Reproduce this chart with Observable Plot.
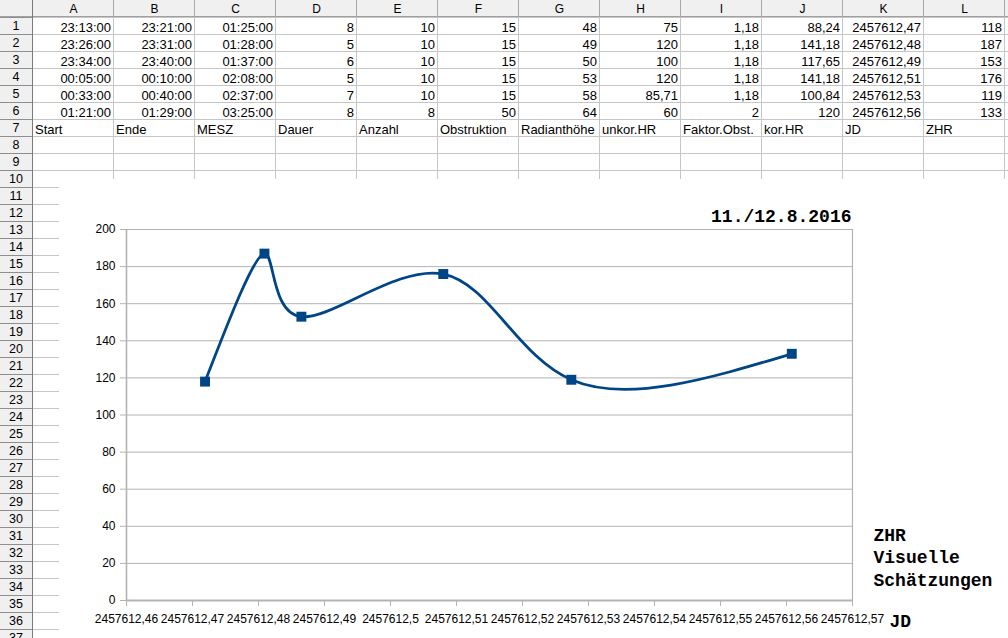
<!DOCTYPE html>
<html><head><meta charset="utf-8">
<script src="https://cdn.jsdelivr.net/npm/d3@7"></script>
<script src="https://cdn.jsdelivr.net/npm/@observablehq/plot@0.6"></script>
<style>
body{margin:0;background:#fff;width:1008px;height:638px;overflow:hidden;position:relative;font-family:"Liberation Sans",Arial,sans-serif;}
#sheet{position:absolute;left:0;top:0;width:1008px;height:638px;overflow:hidden;}
.c{position:absolute;box-sizing:border-box;font-size:13px;line-height:17px;height:17px;white-space:nowrap;color:#000;}
.l{position:absolute;}
#chart{position:absolute;left:59px;top:179px;width:949px;height:459px;background:#fff;}
#chart svg{display:block;background:transparent;}
</style></head><body>
<div id="sheet"></div>
<div id="chart"></div>
<script>
// ---- spreadsheet content ----
const colLetters = ["A","B","C","D","E","F","G","H","I","J","K","L"];
const startTimes = ["23:13:00","23:26:00","23:34:00","00:05:00","00:33:00","01:21:00"];
const endTimes   = ["23:21:00","23:31:00","23:40:00","00:10:00","00:40:00","01:29:00"];
const mesz       = ["01:25:00","01:28:00","01:37:00","02:08:00","02:37:00","03:25:00"];
const dauer      = [8,5,6,5,7,8];
const anzahl     = [10,10,10,10,10,8];
const obstruktion= [15,15,15,15,15,50];
const radiant    = [48,49,50,53,58,64];
const unkorHR    = [75,120,100,120,85.71,60];
const faktor     = [1.18,1.18,1.18,1.18,1.18,2];
const korHR      = [88.24,141.18,117.65,141.18,100.84,120];
const jdPlot     = [2457612.4719,2457612.4809,2457612.4865,2457612.5080,2457612.5274,2457612.5608];
const zhr        = [118,187,153,176,119,133];
const headers    = ["Start","Ende","MESZ","Dauer","Anzahl","Obstruktion","Radianthöhe","unkor.HR","Faktor.Obst.","kor.HR","JD","ZHR"];

// ---- chart texts / ticks ----
const xTicks = [2457612.46,2457612.47,2457612.48,2457612.49,2457612.50,2457612.51,2457612.52,2457612.53,2457612.54,2457612.55,2457612.56,2457612.57];
const yTicks = [0,20,40,60,80,100,120,140,160,180,200];
const chartTitle = "11./12.8.2016";
const legendText = "ZHR\nVisuelle\nSchätzungen";
const xTitle = "JD";

const de = v => String(v).replace(".", ",");

// ---- draw spreadsheet ----
const sheet = document.getElementById("sheet");
function box(x, y, w, h, bg) {
  const d = document.createElement("div");
  d.className = "l";
  d.style.cssText = `left:${x}px;top:${y}px;width:${w}px;height:${h}px;background:${bg}`;
  sheet.appendChild(d);
}
function cell(text, x, y, w, align, size, extra) {
  const d = document.createElement("div");
  d.className = "c";
  d.textContent = text;
  d.style.left = x + "px"; d.style.top = y + "px"; d.style.width = w + "px";
  d.style.textAlign = align;
  if (size) d.style.fontSize = size + "px";
  if (extra) d.style.cssText += extra;
  sheet.appendChild(d);
}
const RH = 17, CW = 81, X0 = 33, NROWS = 37;
box(0, 0, 1008, 17, "#f0f0f0");
box(0, 17, 33, 638, "#f0f0f0");
// horizontal lines
for (let n = 1; n <= 37; n++) {
  box(X0, RH * n, 1008 - X0, 1, "#c6c6c6");
  box(0, RH * n, X0, 1, "#8e8e8e");
}
box(0, 16, 1008, 1, "#a0a0a0");
// vertical lines
box(32, 0, 1, 638, "#7a7a7a");
for (let k = 1; k <= 12; k++) {
  const x = X0 + CW * k - 1;
  box(x, 0, 1, 16, "#a8a8a8");
  box(x, 17, 1, 638, "#c6c6c6");
}
// headers
colLetters.forEach((L, k) => cell(L, X0 + CW * k, 0, CW, "center", 12, "padding-top:1px"));
for (let n = 1; n <= NROWS; n++) cell(String(n), 0, RH * n + 1, 32, "center", 12.5);
// data rows
const cols = [
  startTimes, endTimes, mesz, dauer, anzahl, obstruktion, radiant,
  unkorHR.map(de), faktor.map(de), korHR.map(de),
  jdPlot.map(v => de((Math.round(v * 100) / 100).toFixed(2))), zhr
];
for (let r = 0; r < 6; r++) {
  cols.forEach((col, k) => cell(String(col[r]), X0 + CW * k, RH * (r + 1) + 2, CW, "right", null, "padding-right:3px"));
}
headers.forEach((h, k) => cell(h, X0 + CW * k, RH * 7 + 2, CW, "left", null, "padding-left:2px"));

// ---- chart ----
const points = jdPlot.map((jd, i) => ({jd, zhr: zhr[i]}));
const fmtX = d => de(Math.round(d * 100) / 100);
const GRID = "#b3b3b3", BLUE = "#004586";
const mono = "'Liberation Mono','Courier New',monospace";

const plot = Plot.plot({
  width: 949, height: 459,
  marginLeft: 67, marginRight: 156, marginTop: 50, marginBottom: 38,
  style: {fontFamily: "'Liberation Sans',Arial,sans-serif", fontSize: "12px", color: "#000", background: "transparent"},
  x: {domain: [xTicks[0], xTicks[xTicks.length - 1]]},
  y: {domain: [0, 200]},
  marks: [
    Plot.ruleY(yTicks, {stroke: GRID, strokeWidth: 1}),
    Plot.ruleX([xTicks[xTicks.length - 1]], {stroke: GRID, strokeWidth: 1.2}),
    Plot.ruleX([xTicks[0]], {stroke: GRID, strokeWidth: 1.6}),
    Plot.ruleY([0], {stroke: GRID, strokeWidth: 2}),
    Plot.axisY(yTicks, {tickSize: 6, tickPadding: 5, stroke: GRID, fill: "#000", fontSize: 12, label: null}),
    Plot.axisX(xTicks, {tickSize: 6, tickPadding: 8, stroke: GRID, fill: "#000", fontSize: 12, tickFormat: fmtX, label: null}),
    Plot.line(points, {x: "jd", y: "zhr", curve: "natural", stroke: BLUE, strokeWidth: 2.8}),
    Plot.dot(points, {x: "jd", y: "zhr", symbol: "square", r: 5.6, fill: BLUE, stroke: null}),
    Plot.text([chartTitle], {text: d => d, frameAnchor: "top-right", textAnchor: "end", dx: -1, dy: -20.5, fontFamily: mono, fontWeight: "bold", fontSize: 18, fill: "#000"}),
    Plot.text([legendText], {text: d => d, frameAnchor: "bottom-right", textAnchor: "start", lineAnchor: "top", lineHeight: 1.25, dx: 21, dy: -75.5, fontFamily: mono, fontWeight: "bold", fontSize: 18, fill: "#000"}),
    Plot.text([xTitle], {text: d => d, frameAnchor: "bottom-right", textAnchor: "start", dx: 37, dy: 26.2, fontFamily: mono, fontWeight: "bold", fontSize: 18, fill: "#000"})
  ]
});
document.getElementById("chart").appendChild(plot);
</script>
</body></html>
